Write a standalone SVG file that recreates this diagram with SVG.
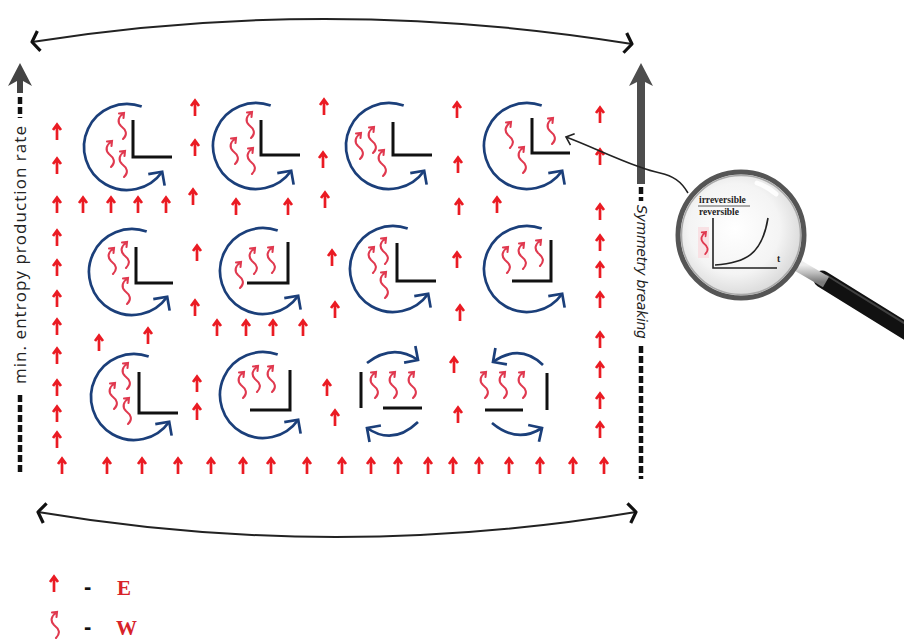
<svg xmlns="http://www.w3.org/2000/svg" xmlns:xlink="http://www.w3.org/1999/xlink" width="904" height="639" viewBox="0 0 904 639">
<style>
.e{fill:none;stroke:#ea1b23;stroke-width:2.7;stroke-linejoin:miter}
.w{fill:none;stroke:#e0394f;stroke-width:2.1;stroke-linecap:round}
.ring{fill:none;stroke:#1b3f7a;stroke-width:2.7;marker-end:url(#bhead)}
.flip{fill:none;stroke:#1b3f7a;stroke-width:2.7;marker-end:url(#bhead)}
.ell{fill:none;stroke:#111;stroke-width:3}
.span{fill:none;stroke:#222;stroke-width:2;marker-start:url(#khead);marker-end:url(#khead)}
.dash{stroke:#111;stroke-width:4.5;stroke-dasharray:7 3}
.side{font-family:"Open Sans","Liberation Sans",sans-serif;font-size:17px;fill:#222}
.hand{font-family:"DejaVu Sans","Liberation Sans",sans-serif;font-style:italic;font-size:14px;fill:#222}
.lens{font-family:"Liberation Serif",serif;font-weight:bold;font-size:9.5px;fill:#222}
.leg{font-family:"Liberation Serif",serif;font-weight:bold;font-size:21px;fill:#d8232a}
.dashtxt{font-family:"Liberation Sans",sans-serif;font-weight:bold;font-size:22px;fill:#111}
</style>
<defs>
  <marker id="bhead" viewBox="-14 -14 28 28" refX="0" refY="0" markerWidth="28" markerHeight="28" markerUnits="userSpaceOnUse" orient="auto">
    <path d="M-10,-10 L0,0 L-10,10" fill="none" stroke="#1b3f7a" stroke-width="2.7"/>
  </marker>
  <marker id="khead" viewBox="-14 -14 28 28" refX="0" refY="0" markerWidth="28" markerHeight="28" markerUnits="userSpaceOnUse" orient="auto-start-reverse">
    <path d="M-7,-10 L0,0 L-7,10" fill="none" stroke="#111" stroke-width="3.2" stroke-linejoin="round"/>
  </marker>
  <marker id="thin" viewBox="-10 -10 20 20" refX="0" refY="0" markerWidth="20" markerHeight="20" markerUnits="userSpaceOnUse" orient="auto">
    <path d="M-7,-6 L0,0 L-7,6" fill="none" stroke="#222" stroke-width="1.6"/>
  </marker>
  <path id="e" d="M0,8 V-7 M-4,-2 L0,-7.5 L4,-2"/>
  <path id="w" d="M0,0 C-6,4 -7,9 -3,13 C2,17 4,21 -1,26 M-5,0.5 L0,0 L-0.5,5"/>
  <radialGradient id="glass" cx="0.45" cy="0.45" r="0.6">
    <stop offset="0" stop-color="#ffffff"/>
    <stop offset="0.6" stop-color="#f4f4f4"/>
    <stop offset="1" stop-color="#d2d2d2"/>
  </radialGradient>
  <linearGradient id="neck" x1="0" y1="0" x2="0" y2="1">
    <stop offset="0" stop-color="#eeeeee"/>
    <stop offset="0.5" stop-color="#b9b9b9"/>
    <stop offset="1" stop-color="#7a7a7a"/>
  </linearGradient>
</defs>

<!-- horizontal span arrows -->
<g id="spans">
  <path class="span" d="M32,42 Q330,-5 632,44"/>
  <path class="span" d="M38,512 Q335,562 636,512"/>
</g>

<!-- left axis: entropy production -->
<g id="left-axis">
  <polygon points="20,63 32,86 23,81 23,93 17,93 17,81 8,86" fill="#444"/>
  <line class="dash" x1="20" y1="97" x2="20" y2="118"/>
  <text class="side" transform="translate(26,255) rotate(-90)" text-anchor="middle" textLength="258" lengthAdjust="spacing">min. entropy production rate</text>
  <line class="dash" x1="20" y1="395" x2="20" y2="473"/>
</g>

<!-- right axis: symmetry breaking -->
<g id="right-axis">
  <polygon points="641,63 653,86 645,82 645,184 637,184 637,82 629,86" fill="#4d4d4d"/>
  <line class="dash" x1="641" y1="187" x2="641" y2="201"/>
  <text class="hand" transform="translate(637,272) rotate(90)" text-anchor="middle" textLength="134" lengthAdjust="spacing">Symmetry breaking</text>
  <line class="dash" x1="641" y1="346" x2="641" y2="479"/>
</g>

<!-- free energy flux arrows -->
<g id="flux" class="e">
  <use href="#e" x="57" y="132"/><use href="#e" x="57" y="166"/><use href="#e" x="57" y="205"/>
  <use href="#e" x="57" y="238"/><use href="#e" x="57" y="268"/><use href="#e" x="57" y="299"/>
  <use href="#e" x="57" y="327"/><use href="#e" x="57" y="356"/><use href="#e" x="57" y="388"/>
  <use href="#e" x="57" y="414"/><use href="#e" x="57" y="440"/>

  <use href="#e" x="62" y="466"/><use href="#e" x="107" y="466"/><use href="#e" x="142" y="466"/>
  <use href="#e" x="178" y="466"/><use href="#e" x="211" y="466"/><use href="#e" x="243" y="466"/>
  <use href="#e" x="271" y="466"/><use href="#e" x="307" y="466"/><use href="#e" x="342" y="466"/>
  <use href="#e" x="371" y="466"/><use href="#e" x="398" y="466"/><use href="#e" x="428" y="466"/>
  <use href="#e" x="453" y="466"/><use href="#e" x="479" y="466"/><use href="#e" x="509" y="466"/>
  <use href="#e" x="540" y="466"/><use href="#e" x="573" y="466"/><use href="#e" x="604" y="466"/>

  <use href="#e" x="600" y="115"/><use href="#e" x="600" y="157"/><use href="#e" x="600" y="212"/>
  <use href="#e" x="600" y="243"/><use href="#e" x="600" y="270"/><use href="#e" x="600" y="300"/>
  <use href="#e" x="600" y="340"/><use href="#e" x="600" y="370"/><use href="#e" x="600" y="401"/>
  <use href="#e" x="600" y="430"/>

  <use href="#e" x="195" y="108"/><use href="#e" x="195" y="148"/><use href="#e" x="193" y="197"/>
  <use href="#e" x="197" y="253"/><use href="#e" x="195" y="308"/><use href="#e" x="197" y="384"/>
  <use href="#e" x="197" y="412"/>

  <use href="#e" x="324" y="107"/><use href="#e" x="323" y="160"/><use href="#e" x="325" y="200"/>
  <use href="#e" x="332" y="258"/><use href="#e" x="335" y="310"/><use href="#e" x="327" y="388"/>
  <use href="#e" x="335" y="418"/>

  <use href="#e" x="457" y="110"/><use href="#e" x="458" y="165"/><use href="#e" x="459" y="207"/>
  <use href="#e" x="457" y="260"/><use href="#e" x="460" y="313"/><use href="#e" x="454" y="365"/>
  <use href="#e" x="458" y="415"/>

  <use href="#e" x="83" y="205"/><use href="#e" x="111" y="205"/><use href="#e" x="138" y="205"/>
  <use href="#e" x="166" y="205"/><use href="#e" x="236" y="207"/><use href="#e" x="288" y="207"/>
  <use href="#e" x="497" y="205"/>

  <use href="#e" x="99" y="343"/><use href="#e" x="148" y="336"/><use href="#e" x="217" y="328"/>
  <use href="#e" x="246" y="328"/><use href="#e" x="273" y="328"/><use href="#e" x="303" y="328"/>
</g>

<!-- row 1 cells -->
<g id="cell-1-1">
  <path class="ring" d="M141.7,106.6 A43,43 0 1 0 162.2,171.7"/>
  <path class="ell" d="M133,120 V157 H172"/>
  <g class="w"><use href="#w" x="124" y="113"/><use href="#w" x="112" y="141"/><use href="#w" x="125" y="151"/></g>
</g>
<g id="cell-1-2">
  <path class="ring" d="M270.7,105.6 A43,43 0 1 0 291.2,170.7"/>
  <path class="ell" d="M261,120 V155 H300"/>
  <g class="w"><use href="#w" x="252" y="112"/><use href="#w" x="236" y="138"/><use href="#w" x="253" y="148"/></g>
</g>
<g id="cell-1-3">
  <path class="ring" d="M403.7,105.6 A43,43 0 1 0 424.2,170.7"/>
  <path class="ell" d="M393,122 V155 H432"/>
  <g class="w"><use href="#w" x="361" y="133"/><use href="#w" x="374" y="127"/><use href="#w" x="384" y="150"/></g>
</g>
<g id="cell-1-4">
  <path class="ring" d="M541.7,105.6 A43,43 0 1 0 562.2,170.7"/>
  <path class="ell" d="M532,118 V153 H570"/>
  <g class="w"><use href="#w" x="511" y="122"/><use href="#w" x="553" y="118"/><use href="#w" x="524" y="147"/></g>
</g>

<!-- row 2 cells -->
<g id="cell-2-1">
  <path class="ring" d="M146.7,231.6 A43,43 0 1 0 167.2,296.7"/>
  <path class="ell" d="M136,247 V283 H173"/>
  <g class="w"><use href="#w" x="114" y="248"/><use href="#w" x="127" y="242"/><use href="#w" x="128" y="278"/></g>
</g>
<g id="cell-2-2">
  <path class="ring" d="M277.7,230.6 A43,43 0 1 0 298.2,295.7"/>
  <path class="ell" d="M247,283 H288 V242"/>
  <g class="w"><use href="#w" x="241" y="262"/><use href="#w" x="255" y="248"/><use href="#w" x="273" y="247"/></g>
</g>
<g id="cell-2-3">
  <path class="ring" d="M407.7,228.6 A43,43 0 1 0 428.2,293.7"/>
  <path class="ell" d="M397,243 V281 H436"/>
  <g class="w"><use href="#w" x="374" y="247"/><use href="#w" x="386" y="238"/><use href="#w" x="386" y="272"/></g>
</g>
<g id="cell-2-4">
  <path class="ring" d="M541.7,228.6 A43,43 0 1 0 562.2,293.7"/>
  <path class="ell" d="M512,281 H551 V240"/>
  <g class="w"><use href="#w" x="508" y="247"/><use href="#w" x="524" y="243"/><use href="#w" x="541" y="240"/></g>
</g>

<!-- row 3 cells -->
<g id="cell-3-1">
  <path class="ring" d="M148.7,356.6 A43,43 0 1 0 169.2,421.7"/>
  <path class="ell" d="M139,372 V413 H178"/>
  <g class="w"><use href="#w" x="128" y="363"/><use href="#w" x="115" y="383"/><use href="#w" x="129" y="398"/></g>
</g>
<g id="cell-3-2">
  <path class="ring" d="M277.7,354.6 A43,43 0 1 0 298.2,419.7"/>
  <path class="ell" d="M250,410 H290 V370"/>
  <g class="w"><use href="#w" x="244" y="372"/><use href="#w" x="258" y="366"/><use href="#w" x="273" y="366"/></g>
</g>
<g id="cell-3-3">
  <path class="flip" d="M367,363 Q393,343 418,360"/>
  <path class="flip" d="M418,422 Q393,446 367,428"/>
  <path class="ell" d="M361,372 V408 M383,408 H422"/>
  <g class="w"><use href="#w" x="376" y="372"/><use href="#w" x="395" y="372"/><use href="#w" x="414" y="372"/></g>
</g>
<g id="cell-3-4">
  <path class="flip" d="M543,365 Q520,343 493,362"/>
  <path class="flip" d="M492,423 Q517,444 542,428"/>
  <path class="ell" d="M547,373 V410 M485,410 H523"/>
  <g class="w"><use href="#w" x="486" y="372"/><use href="#w" x="505" y="372"/><use href="#w" x="524" y="372"/></g>
</g>

<!-- magnifier pointing to cell 1-4 -->
<g id="connectors">
  <path d="M688,193 C681,181 673,176 660,173 C650,171 645,169 637,166 C612,157 590,146 566,137" fill="none" stroke="#222" stroke-width="1.5" marker-end="url(#thin)"/>
</g>

<g id="magnifier">
  <line x1="822" y1="279" x2="935" y2="349" stroke="#111" stroke-width="17" stroke-linecap="round"/>
  <line x1="826" y1="275" x2="930" y2="339" stroke="#555" stroke-width="2" opacity="0.7"/>
  <line x1="797" y1="265" x2="826" y2="282" stroke="url(#neck)" stroke-width="12"/>
  <circle cx="741" cy="235" r="63" fill="url(#glass)" stroke="#555" stroke-width="5"/>
  <circle cx="741" cy="235" r="59.5" fill="none" stroke="#a8a8a8" stroke-width="1.5"/>
  <path d="M757,183 A54,54 0 0 1 776,194" fill="none" stroke="#ffffff" stroke-width="5" stroke-linecap="round" opacity="0.9"/>
  <text class="lens" x="699" y="203">irreversible</text>
  <line x1="698" y1="206" x2="750" y2="206" stroke="#333" stroke-width="0.8"/>
  <text class="lens" x="699" y="215">reversible</text>
  <rect x="698" y="227" width="11" height="31" fill="#f8e1e4"/>
  <use href="#w" x="706" y="232" class="w" transform="translate(706,232) scale(0.85) translate(-706,-232)"/>
  <path d="M713,218 V268 H777" fill="none" stroke="#222" stroke-width="1.6"/>
  <path d="M715,265 C745,263 762,255 768,218" fill="none" stroke="#222" stroke-width="1.6"/>
  <text class="lens" x="777" y="262">t</text>
</g>

<!-- legend -->
<g id="legend">
  <g class="e"><use href="#e" x="54" y="584"/></g>
  <text class="dashtxt" x="84" y="594">-</text>
  <text class="leg" x="117" y="595">E</text>
  <g class="w"><use href="#w" x="57" y="612"/></g>
  <text class="dashtxt" x="84" y="634">-</text>
  <text class="leg" x="116" y="635">W</text>
</g>
</svg>
